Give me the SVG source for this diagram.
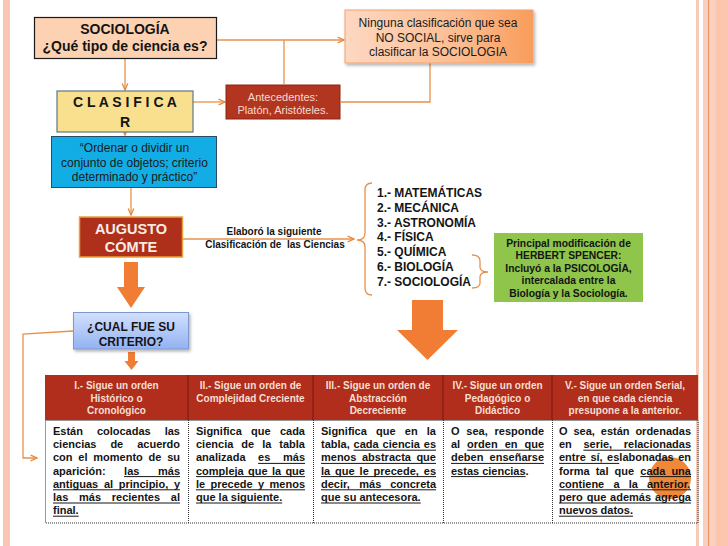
<svg xmlns="http://www.w3.org/2000/svg" width="728" height="546" viewBox="0 0 728 546">
<style>
text{font-family:"Liberation Sans",Arial,sans-serif;}
.b{font-weight:bold;}
.ctr{text-anchor:middle;}
.con{fill:none;stroke:#e8914b;stroke-width:1.3;}
.blk{fill:#f07d33;}
.hd{font-size:10px;font-weight:bold;fill:#f7dfd3;text-anchor:middle;}
.bd{font-size:11px;font-weight:bold;fill:#141414;}
.ul{stroke:#141414;stroke-width:1;}
.dot{fill:none;stroke:#333;stroke-width:1;stroke-dasharray:1 1;}
.lst{font-size:12px;font-weight:bold;fill:#141414;}
</style>
<defs>
<marker id="chev" viewBox="0 0 10 10" refX="9" refY="5" markerWidth="8" markerHeight="8" markerUnits="userSpaceOnUse" orient="auto">
<path d="M1,1.5 L9,5 L1,8.5" fill="none" stroke="#e8873a" stroke-width="1.6"/>
</marker>
<linearGradient id="gNin" x1="0" y1="0" x2="1" y2="0">
<stop offset="0" stop-color="#fdd8c2"/><stop offset="0.6" stop-color="#fbbd92"/><stop offset="1" stop-color="#f99c5a"/>
</linearGradient>
<linearGradient id="gCri" x1="0" y1="0" x2="0" y2="1">
<stop offset="0" stop-color="#d2e0fd"/><stop offset="1" stop-color="#93b2f2"/>
</linearGradient>
<filter id="sh" x="-10%" y="-15%" width="130%" height="150%">
<feDropShadow dx="1.5" dy="2" stdDeviation="1.5" flood-color="#000" flood-opacity="0.3"/>
</filter>
</defs>
<rect x="0" y="0" width="728" height="546" fill="#ffffff"/>
<!-- page borders -->
<rect x="3" y="0" width="7" height="546" fill="#f9c6b3"/>
<rect x="696" y="0" width="3" height="546" fill="#f7c9b9"/>
<rect x="703" y="0" width="5" height="546" fill="#f9cfc0"/>
<rect x="708" y="0" width="1.5" height="546" fill="#e8956a"/>
<rect x="710" y="0" width="6" height="546" fill="#fbd0bf"/>
<rect x="716" y="0" width="12" height="546" fill="#fcc5ae"/>

<g id="connectors">
<path class="con" d="M217,40 H344" marker-end="url(#chev)"/>
<path class="con" d="M284,40 V84"/>
<path class="con" d="M430,63 V102 H341"/>
<path class="con" d="M125,58 V90" marker-end="url(#chev)"/>
<path class="con" d="M193,102 H225" marker-end="url(#chev)"/>
<path class="con" d="M125,127 V135" marker-end="url(#chev)"/>
<path class="con" d="M131,187 V215" marker-end="url(#chev)"/>
<path class="con" d="M183,239 H354" marker-end="url(#chev)"/>
<path class="con" d="M73,331 L23,334 V458 H37" marker-end="url(#chev)"/>
<path class="con" stroke-width="1.6" d="M372,183 Q365,183 365,190 V233 Q365,240 357,240 Q365,240 365,247 V288 Q365,295 372,295"/>
<path class="con" stroke-width="1.6" d="M472,255 Q480,255 480,261 V267 Q480,272 488,272 Q480,272 480,277 V283 Q480,288 472,288"/>
<polygon class="blk" points="124,262 138,262 138,287 145,287 131,308 117,287 124,287"/>
<polygon class="blk" points="128,352 135,352 135,361 138.5,361 131.5,370 124.5,361 128,361"/>
<polygon class="blk" points="412,300 443,300 443,330 458,330 427.5,360 397,330 412,330"/>
<text class="b ctr" x="274" y="235" font-size="10" fill="#141414">Elaboró la siguiente</text>
<text class="b ctr" x="275" y="247.5" font-size="10" fill="#141414" xml:space="preserve">Clasificación de  las Ciencias</text>
</g>

<g id="sociologia">
<rect x="34.5" y="17.5" width="182" height="41" fill="#fdd2b2" stroke="#1a1a1a" stroke-width="1.2"/>
<text class="b ctr" x="125" y="34" font-size="14" fill="#141414">SOCIOLOGÍA</text>
<text class="b ctr" x="125" y="51" font-size="14" fill="#141414">¿Qué tipo de ciencia es?</text>
</g>

<g id="ninguna">
<rect x="345" y="10" width="188" height="53" fill="url(#gNin)" stroke="#f2a06c" stroke-width="1" filter="url(#sh)"/>
<text class="ctr" x="438" y="27" font-size="12" fill="#1a1a1a">Ninguna clasificación que sea</text>
<text class="ctr" x="438" y="41.5" font-size="12" fill="#1a1a1a">NO SOCIAL, sirve para</text>
<text class="ctr" x="438" y="56" font-size="12" fill="#1a1a1a">clasificar la SOCIOLOGIA</text>
</g>

<g id="antecedentes">
<rect x="226" y="85" width="114" height="34" fill="#b23520" stroke="#8c2414" stroke-width="1"/>
<text class="ctr" x="283" y="101" font-size="11" fill="#f7d9cf">Antecedentes:</text>
<text class="ctr" x="283" y="113.5" font-size="11" fill="#f7d9cf">Platón, Aristóteles.</text>
</g>

<g id="clasificar">
<rect x="57" y="91" width="136" height="41" fill="#f8e08f" stroke="#5a7a8a" stroke-width="1.2"/>
<text class="b ctr" x="125" y="107" font-size="14" fill="#141414">C L A S I F I C A</text>
<text class="b ctr" x="125" y="127" font-size="14" fill="#141414">R</text>
</g>

<g id="ordenar">
<rect x="51.5" y="136.5" width="165" height="51" fill="#13ade6" stroke="#2a4a66" stroke-width="1"/>
<text class="ctr" x="134.5" y="152" font-size="12" fill="#1a1a1a">“Ordenar o dividir un</text>
<text class="ctr" x="134.5" y="166.5" font-size="12" fill="#1a1a1a">conjunto de objetos; criterio</text>
<text class="ctr" x="134.5" y="181" font-size="12" fill="#1a1a1a">determinado y práctico”</text>
</g>

<g id="augusto">
<rect x="79.5" y="217" width="103" height="40" fill="#ae301b" stroke="#e9a23b" stroke-width="1.5"/>
<text class="b ctr" x="131" y="234" font-size="14.5" fill="#f8ebe4">AUGUSTO</text>
<text class="b ctr" x="131" y="251.5" font-size="14.5" fill="#f8ebe4">CÓMTE</text>
</g>

<g id="lista">
<text class="lst" x="377" y="197">1.- MATEMÁTICAS</text>
<text class="lst" x="377" y="211.8">2.- MECÁNICA</text>
<text class="lst" x="377" y="226.6">3.- ASTRONOMÍA</text>
<text class="lst" x="377" y="241.4">4.- FÍSICA</text>
<text class="lst" x="377" y="256.2">5.- QUÍMICA</text>
<text class="lst" x="377" y="271">6.- BIOLOGÍA</text>
<text class="lst" x="377" y="285.8">7.- SOCIOLOGÍA</text>
</g>

<g id="spencer">
<rect x="494" y="233" width="149" height="69" fill="#8ec54a"/>
<text class="b ctr" x="568.5" y="246.5" font-size="10.3" fill="#141414">Principal modificación de</text>
<text class="b ctr" x="568.5" y="259" font-size="10.3" fill="#141414">HERBERT SPENCER:</text>
<text class="b ctr" x="568.5" y="271.5" font-size="10.3" fill="#141414">Incluyó a la PSICOLOGÍA,</text>
<text class="b ctr" x="568.5" y="284" font-size="10.3" fill="#141414">intercalada entre la</text>
<text class="b ctr" x="568.5" y="296.5" font-size="10.3" fill="#141414">Biología y la Sociología.</text>
</g>

<g id="criterio">
<rect x="73.5" y="312.5" width="115" height="36.5" fill="url(#gCri)" stroke="#7f97cf" stroke-width="1" filter="url(#sh)"/>
<text class="b ctr" x="131" y="330.5" font-size="12" fill="#141414">¿CUAL FUE SU</text>
<text class="b ctr" x="131" y="345.5" font-size="12" fill="#141414">CRITERIO?</text>
</g>

<g id="tabla">
<rect x="45" y="375" width="653" height="45" fill="#b02e1b"/>
<line x1="188" y1="375" x2="188" y2="420" stroke="#6e1a0e" stroke-width="1"/>
<line x1="313" y1="375" x2="313" y2="420" stroke="#6e1a0e" stroke-width="1"/>
<line x1="443" y1="375" x2="443" y2="420" stroke="#6e1a0e" stroke-width="1"/>
<line x1="552" y1="375" x2="552" y2="420" stroke="#6e1a0e" stroke-width="1"/>
<rect x="45.5" y="420.5" width="652.5" height="102.5" fill="#ffffff" class="dot"/>
<line class="dot" x1="188.5" y1="420" x2="188.5" y2="523"/>
<line class="dot" x1="313.5" y1="420" x2="313.5" y2="523"/>
<line class="dot" x1="443.5" y1="420" x2="443.5" y2="523"/>
<line class="dot" x1="552.5" y1="420" x2="552.5" y2="523"/>
<circle cx="670" cy="478" r="21" fill="#f0883a"/>

<text class="hd" x="116.5" y="389">I.- Sigue un orden</text>
<text class="hd" x="116.5" y="401.5">Histórico o</text>
<text class="hd" x="116.5" y="414">Cronológico</text>
<text class="hd" x="250.5" y="389">II.- Sigue un orden de</text>
<text class="hd" x="250.5" y="401.5">Complejidad Creciente</text>
<text class="hd" x="378" y="389">III.- Sigue un orden de</text>
<text class="hd" x="378" y="401.5">Abstracción</text>
<text class="hd" x="378" y="414">Decreciente</text>
<text class="hd" x="497.5" y="389">IV.- Sigue un orden</text>
<text class="hd" x="497.5" y="401.5">Pedagógico o</text>
<text class="hd" x="497.5" y="414">Didáctico</text>
<text class="hd" x="625" y="389">V.- Sigue un orden Serial,</text>
<text class="hd" x="625" y="401.5">en que cada ciencia</text>
<text class="hd" x="625" y="414">presupone a la anterior.</text>

<!-- column 1 -->
<text class="bd" y="435"><tspan x="53">Están</tspan><tspan x="96.9">colocadas</tspan><tspan x="164.7">las</tspan></text>
<text class="bd" y="448.2"><tspan x="53">ciencias</tspan><tspan x="110.4">de</tspan><tspan x="137.2">acuerdo</tspan></text>
<text class="bd" y="461.4"><tspan x="53">con</tspan><tspan x="78.3">el</tspan><tspan x="93.3">momento</tspan><tspan x="148.5">de</tspan><tspan x="167.2">su</tspan></text>
<text class="bd" y="474.6"><tspan x="53">aparición:</tspan><tspan x="124.1">las</tspan><tspan x="158">más</tspan></text>
<text class="bd" y="487.8"><tspan x="53">antiguas</tspan><tspan x="103.9">al</tspan><tspan x="118.7">principio,</tspan><tspan x="173.9">y</tspan></text>
<text class="bd" y="501"><tspan x="53">las</tspan><tspan x="79">más</tspan><tspan x="111.8">recientes</tspan><tspan x="170.8">al</tspan></text>
<text class="bd" x="53" y="514.2">final.</text>
<line class="ul" x1="124.1" y1="476.6" x2="180" y2="476.6"/>
<line class="ul" x1="53" y1="489.8" x2="180" y2="489.8"/>
<line class="ul" x1="53" y1="503" x2="180" y2="503"/>
<line class="ul" x1="53" y1="516.2" x2="78.7" y2="516.2"/>

<!-- column 2 -->
<text class="bd" y="435"><tspan x="196">Significa</tspan><tspan x="251.1">que</tspan><tspan x="279.9">cada</tspan></text>
<text class="bd" y="448.2"><tspan x="196">ciencia</tspan><tspan x="241.3">de</tspan><tspan x="262.2">la</tspan><tspan x="279.3">tabla</tspan></text>
<text class="bd" y="461.4"><tspan x="196">analizada</tspan><tspan x="258.1">es</tspan><tspan x="283">más</tspan></text>
<text class="bd" y="474.6"><tspan x="196">compleja</tspan><tspan x="248">que</tspan><tspan x="271.9">la</tspan><tspan x="285.4">que</tspan></text>
<text class="bd" y="487.8"><tspan x="196">le</tspan><tspan x="210.5">precede</tspan><tspan x="258.1">y</tspan><tspan x="269.6">menos</tspan></text>
<text class="bd" x="196" y="501">que la siguiente.</text>
<line class="ul" x1="258.1" y1="463.4" x2="305" y2="463.4"/>
<line class="ul" x1="196" y1="476.6" x2="305" y2="476.6"/>
<line class="ul" x1="196" y1="489.8" x2="305" y2="489.8"/>
<line class="ul" x1="196" y1="503" x2="282.2" y2="503"/>

<!-- column 3 -->
<text class="bd" y="435"><tspan x="321">Significa</tspan><tspan x="376">que</tspan><tspan x="404.8">en</tspan><tspan x="426.8">la</tspan></text>
<text class="bd" y="448.2"><tspan x="321">tabla,</tspan><tspan x="353.6">cada</tspan><tspan x="382.6">ciencia</tspan><tspan x="423.8">es</tspan></text>
<text class="bd" y="461.4"><tspan x="321">menos</tspan><tspan x="362">abstracta</tspan><tspan x="416.4">que</tspan></text>
<text class="bd" y="474.6"><tspan x="321">la</tspan><tspan x="335.1">que</tspan><tspan x="359.6">le</tspan><tspan x="373.6">precede,</tspan><tspan x="423.8">es</tspan></text>
<text class="bd" y="487.8"><tspan x="321">decir,</tspan><tspan x="359.3">más</tspan><tspan x="390.2">concreta</tspan></text>
<text class="bd" x="321" y="501">que su antecesora.</text>
<line class="ul" x1="353.6" y1="450.2" x2="436" y2="450.2"/>
<line class="ul" x1="321" y1="463.4" x2="436" y2="463.4"/>
<line class="ul" x1="321" y1="476.6" x2="436" y2="476.6"/>
<line class="ul" x1="321" y1="489.8" x2="436" y2="489.8"/>
<line class="ul" x1="321" y1="503" x2="420.7" y2="503"/>

<!-- column 4 -->
<text class="bd" y="435"><tspan x="451">O</tspan><tspan x="466.3">sea,</tspan><tspan x="494.5">responde</tspan></text>
<text class="bd" y="448.2"><tspan x="451">al</tspan><tspan x="467.1">orden</tspan><tspan x="504.7">en</tspan><tspan x="524.5">que</tspan></text>
<text class="bd" y="461.4"><tspan x="451">deben</tspan><tspan x="489.6">enseñarse</tspan></text>
<text class="bd" x="451" y="474.6">estas ciencias.</text>
<line class="ul" x1="467.1" y1="450.2" x2="544" y2="450.2"/>
<line class="ul" x1="451" y1="463.4" x2="544" y2="463.4"/>
<line class="ul" x1="451" y1="476.6" x2="525.6" y2="476.6"/>

<!-- column 5 -->
<text class="bd" y="435"><tspan x="559">O</tspan><tspan x="573.5">sea,</tspan><tspan x="600.8">están</tspan><tspan x="635.4">ordenadas</tspan></text>
<text class="bd" y="448.2"><tspan x="559">en</tspan><tspan x="583.4">serie,</tspan><tspan x="623.8">relacionadas</tspan></text>
<text class="bd" y="461.4"><tspan x="559">entre</tspan><tspan x="590.4">sí,</tspan><tspan x="607.1">eslabonadas</tspan><tspan x="678.2">en</tspan></text>
<text class="bd" y="474.6"><tspan x="559">forma</tspan><tspan x="595.7">tal</tspan><tspan x="614.6">que</tspan><tspan x="640.3">cada</tspan><tspan x="671.4">una</tspan></text>
<text class="bd" y="487.8"><tspan x="559">contiene</tspan><tspan x="613.4">a</tspan><tspan x="628.7">la</tspan><tspan x="647">anterior,</tspan></text>
<text class="bd" y="501"><tspan x="559">pero</tspan><tspan x="586.7">que</tspan><tspan x="610.1">además</tspan><tspan x="654.9">agrega</tspan></text>
<text class="bd" x="559" y="514.2">nuevos datos.</text>
<line class="ul" x1="583.4" y1="450.2" x2="691" y2="450.2"/>
<line class="ul" x1="559" y1="463.4" x2="619.3" y2="463.4"/>
<line class="ul" x1="640.3" y1="476.6" x2="691" y2="476.6"/>
<line class="ul" x1="559" y1="489.8" x2="691" y2="489.8"/>
<line class="ul" x1="559" y1="503" x2="691" y2="503"/>
<line class="ul" x1="559" y1="516.2" x2="633" y2="516.2"/>
</g>
</svg>
